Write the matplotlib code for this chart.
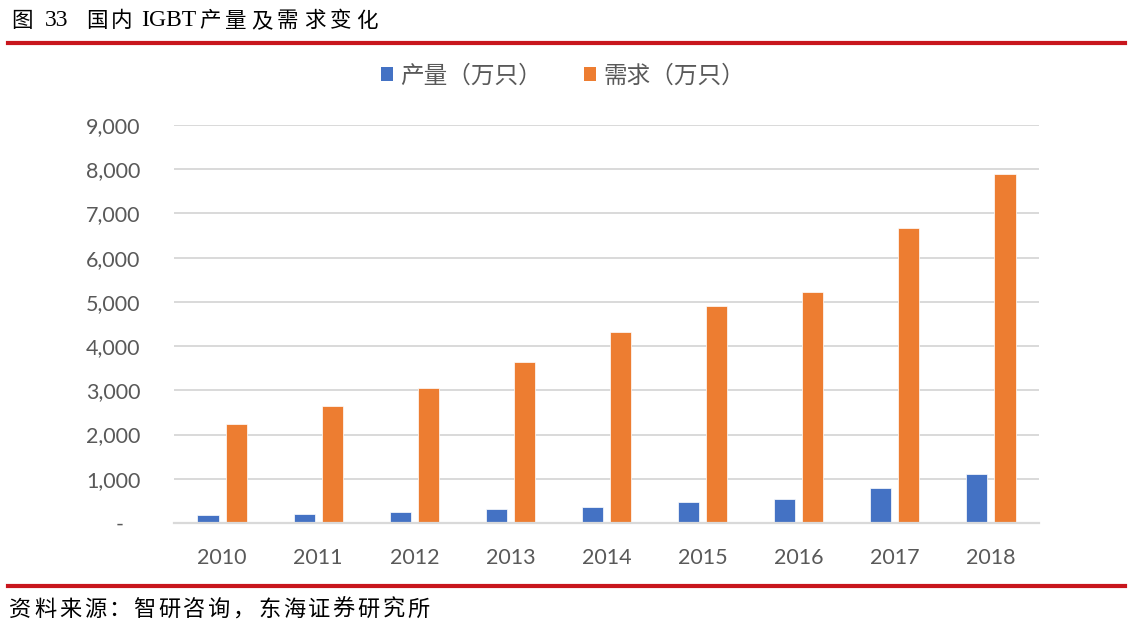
import matplotlib
matplotlib.use("Agg")
import matplotlib.pyplot as plt
from matplotlib.ticker import FuncFormatter, MultipleLocator
from matplotlib.patches import Patch
from matplotlib.lines import Line2D
import numpy as np

years = ["2010", "2011", "2012", "2013", "2014", "2015", "2016", "2017", "2018"]
production = [180, 205, 250, 310, 370, 480, 545, 800, 1100]
demand = [2230, 2640, 3045, 3645, 4330, 4910, 5225, 6680, 7900]
series_names = ["产量（万只）", "需求（万只）"]
title_parts = [("图", 11), ("33", 45), ("国", 86), ("内", 111), ("IGBT", 141),
               ("产", 199), ("量", 225), ("及", 251), ("需", 277), ("求", 304),
               ("变", 330), ("化", 356)]
source_text = "资料来源：智研咨询，东海证券研究所"

W, H = 1133, 624
fig = plt.figure(figsize=(W / 100, H / 100), dpi=100)
cjk = ["Noto Sans CJK SC", "DejaVu Sans"]
serif = ["Liberation Serif", "DejaVu Serif"]
num_font = ["Lato", "DejaVu Sans"]

blue = "#4472C4"
orange = "#ED7D31"
grid_c = "#D9D9D9"
txt_c = "#595959"
red = "#C8161D"

left, right, top, bottom = 174, 1039, 125, 523
ax = fig.add_axes([left / W, 1 - bottom / H, (right - left) / W, (bottom - top) / H])
x = np.arange(len(years))
bw = 0.22
off = 0.146
ax.bar(x - off, production, width=bw, color=blue, edgecolor="white", linewidth=0.5, zorder=3)
ax.bar(x + off, demand, width=bw, color=orange, edgecolor="white", linewidth=0.5, zorder=3)
ax.set_xlim(-0.5, len(years) - 0.5)
ax.set_ylim(0, 9000)
ax.yaxis.set_major_locator(MultipleLocator(1000))
ax.yaxis.set_major_formatter(FuncFormatter(lambda v, p: "-   " if v == 0 else f"{int(v):,}"))
ax.set_xticks(x)
ax.set_xticklabels(years)
for lab in ax.get_xticklabels() + ax.get_yticklabels():
    lab.set_family(num_font)
    lab.set_fontsize(15.5)
    lab.set_color(txt_c)
ax.tick_params(axis="both", length=0)
ax.tick_params(axis="y", pad=24)
ax.tick_params(axis="x", pad=18)
ax.grid(axis="y", color=grid_c, linewidth=1.4, zorder=0)
for s in ["top", "right", "left"]:
    ax.spines[s].set_visible(False)
ax.spines["bottom"].set_color(grid_c)
ax.spines["bottom"].set_linewidth(1.6)
ax.spines["bottom"].set_zorder(4)

handles = [Patch(facecolor=blue, edgecolor="none"), Patch(facecolor=orange, edgecolor="none")]
leg = fig.legend(handles, series_names, loc="center", bbox_to_anchor=(563 / W, 1 - 76 / H),
                 ncol=2, frameon=False, handlelength=0.5, handleheight=0.5,
                 handletextpad=0.3, columnspacing=1.8,
                 prop={"family": cjk, "size": 17})
for t in leg.get_texts():
    t.set_color(txt_c)

# title
for s, px in title_parts:
    fam = serif if s.isascii() else cjk
    size = 17 if s.isascii() else 15.5
    fig.text(px / W, 1 - 21 / H, s, family=fam, fontsize=size, color="black", va="center", ha="left")
# red rules
fig.add_artist(Line2D([8 / W, 1125 / W], [1 - 43 / H, 1 - 43 / H], color=red, linewidth=3))
fig.add_artist(Line2D([8 / W, 1125 / W], [1 - 586 / H, 1 - 586 / H], color=red, linewidth=3))
# source
pitch = 24.9
for i, ch in enumerate(source_text):
    fig.text((9 + i * pitch) / W, 1 - 609 / H, ch, family=cjk, fontsize=16, color="black",
             va="center", ha="left")

fig.savefig("out.png", dpi=100)
